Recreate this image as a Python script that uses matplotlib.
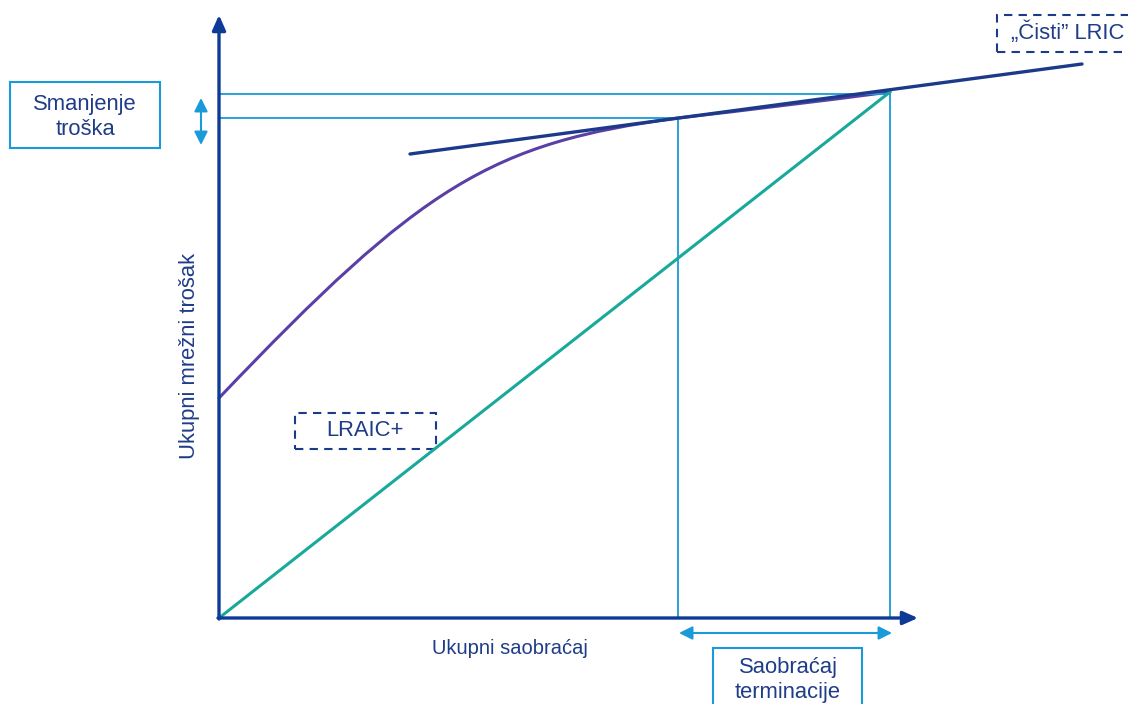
import matplotlib
matplotlib.use("Agg")
import matplotlib.pyplot as plt
from matplotlib.patches import Rectangle, PathPatch
from matplotlib.path import Path

plt.rcParams['font.family'] = ['Liberation Sans', 'DejaVu Sans']

# ---- data (schematic units: traffic on x, network cost on y) ----
# total network cost curve as Bezier control points (start, ctrl, ctrl, A, ctrl, B)
cost_curve_x = [0, 203, 272, 459, 565, 671]
cost_curve_y = [220, 433, 475, 500, 512, 526]

lraic_plus_x = [0, 671]          # straight line through origin
lraic_plus_y = [0, 526]

tangent_x = [191, 863]            # "pure" LRIC tangent
tangent_y = [464, 554]

point_a = (459, 500)              # cost without termination traffic
point_b = (671, 526)              # cost with all traffic

axis_x_max = 699
axis_y_max = 603

label_x = "Ukupni saobraćaj"
label_y = "Ukupni mrežni trošak"
label_reduction = "Smanjenje\ntroška"
label_pure = "„Čisti” LRIC"
label_plus = "LRAIC+"
label_term = "Saobraćaj\nterminacije"

# ---- colours ----
NAVY = '#0d3a96'
TEXT = '#1f3c88'
LBLUE = '#1b9ad9'
TEAL = '#19a99b'
PURPLE = '#5a3fa6'
TAN = '#1c3a8a'

FS_BOX = 15.8

fig = plt.figure(figsize=(11.28, 7.04), dpi=100)
ax = fig.add_axes([0, 0, 1, 1])
ax.set_xlim(-219, 909)
ax.set_ylim(-86, 618)
ax.axis('off')

# guide lines
ax.plot([0, point_b[0]], [point_b[1] - 2, point_b[1] - 2], color=LBLUE, lw=1.3)
ax.plot([0, point_a[0]], [point_a[1], point_a[1]], color=LBLUE, lw=1.3)
ax.plot([point_a[0], point_a[0]], [0, point_a[1]], color=LBLUE, lw=1.3)
ax.plot([point_b[0], point_b[0]], [0, point_b[1]], color=LBLUE, lw=1.3)

# main lines
ax.plot(lraic_plus_x, lraic_plus_y, color=TEAL, lw=2.2, solid_capstyle='round')
ax.plot(tangent_x, tangent_y, color=TAN, lw=2.4, solid_capstyle='round')
verts = list(zip(cost_curve_x, cost_curve_y))
codes = [Path.MOVETO, Path.CURVE4, Path.CURVE4, Path.CURVE4, Path.CURVE3, Path.CURVE3]
ax.add_patch(PathPatch(Path(verts, codes), fill=False, ec=PURPLE, lw=2.2, capstyle='round'))

# axes arrows
ax.annotate('', xy=(0, axis_y_max), xytext=(0, -1),
            arrowprops=dict(arrowstyle='-|>,head_length=0.9,head_width=0.4',
                            color=NAVY, lw=2.4, shrinkA=0, shrinkB=0))
ax.annotate('', xy=(axis_x_max, 0), xytext=(-1, 0),
            arrowprops=dict(arrowstyle='-|>,head_length=0.9,head_width=0.4',
                            color=NAVY, lw=2.4, shrinkA=0, shrinkB=0))

# double arrows
ax.annotate('', xy=(-18, 520), xytext=(-18, 473),
            arrowprops=dict(arrowstyle='<|-|>,head_length=0.8,head_width=0.4',
                            color=LBLUE, lw=1.5, shrinkA=0, shrinkB=0))
ax.annotate('', xy=(point_a[0] + 1, -15), xytext=(point_b[0] + 2, -15),
            arrowprops=dict(arrowstyle='<|-|>,head_length=0.8,head_width=0.4',
                            color=LBLUE, lw=1.5, shrinkA=0, shrinkB=0))

# boxes
ax.add_patch(Rectangle((-209, 470), 150, 66, fill=False, ec=LBLUE, lw=1.5))
ax.add_patch(Rectangle((778, 566), 140, 37, fill=False, ec=TAN, lw=1.5, ls=(0, (4, 3)),
                       clip_on=True))
ax.add_patch(Rectangle((76, 169), 141, 36, fill=False, ec=TAN, lw=1.5, ls=(0, (4, 3))))
ax.add_patch(Rectangle((494, -100), 149, 70, fill=False, ec=LBLUE, lw=1.5))

# texts
ax.text(-134, 501, label_reduction, color=TEXT, fontsize=FS_BOX, ha='center', va='center',
        linespacing=1.2)
ax.text(849, 585, label_pure, color=TEXT, fontsize=FS_BOX, ha='center', va='center')
ax.text(146, 187, label_plus, color=TEXT, fontsize=FS_BOX, ha='center', va='center')
ax.text(569, -62, label_term, color=TEXT, fontsize=FS_BOX, ha='center', va='center',
        linespacing=1.2)
ax.text(291, -30, label_x, color=TEXT, fontsize=14.5, ha='center', va='center')
ax.text(-30, 262, label_y, color=TEXT, fontsize=FS_BOX, ha='center', va='center', rotation=90)

fig.savefig('out.png', dpi=100)
